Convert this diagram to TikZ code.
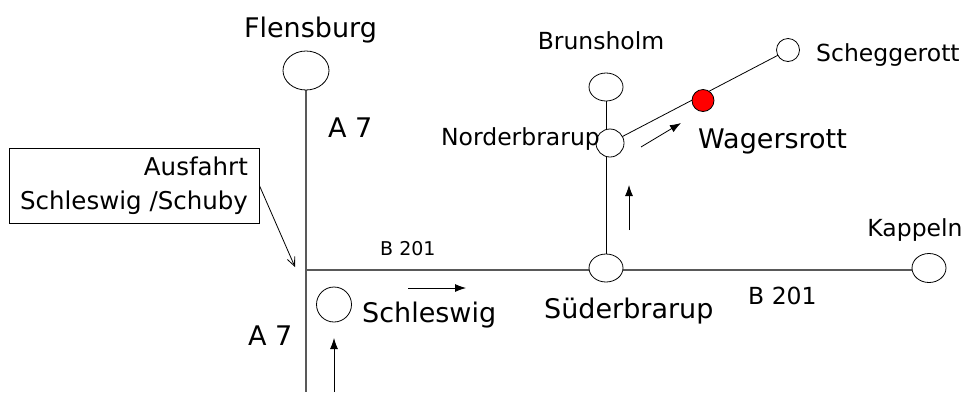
\documentclass[tikz,border=0pt]{standalone}
\usepackage{fontspec}
\setmainfont{DejaVu Sans}
\usetikzlibrary{shapes.geometric,arrows.meta,backgrounds}
\tikzset{
  town/.style={ellipse,draw=black,line width=0.8pt,fill=white,inner sep=0pt},
  bigtxt/.style={inner sep=0pt,font=\fontsize{27}{32}\selectfont},
  midtxt/.style={inner sep=0pt,font=\fontsize{23.5}{28}\selectfont},
  smalltxt/.style={inner sep=0pt,font=\fontsize{19}{23}\selectfont},
  road/.style={draw=black!65,line width=1.3pt},
  minor/.style={draw=black,line width=0.8pt},
  dirarrow/.style={draw=black,line width=0.8pt,-{Latex[length=11pt,width=8pt]}},
  callarrow/.style={draw=black,line width=0.8pt,-{Straight Barb[length=9pt,width=8pt]}}
}
\begin{document}
\begin{tikzpicture}[x=1pt,y=-1pt]
\useasboundingbox (0,0) rectangle (966,392);
% towns
\node[town,minimum width=46pt,minimum height=39pt] (flens) at (306,70.5) {};
\node[town,minimum width=34pt,minimum height=28pt] (bru) at (606,87) {};
\node[town,minimum width=28pt,minimum height=28pt] (nor) at (610,143) {};
\node[town,minimum width=34pt,minimum height=28pt] (sud) at (606,268) {};
\node[town,minimum width=34pt,minimum height=29pt] (kap) at (929,268) {};
\node[town,minimum width=35pt,minimum height=35pt] (schl) at (334,304.5) {};
\node[town,minimum width=23pt,minimum height=23pt] (scheg) at (788,50) {};
\node[town,fill=red,minimum width=22pt,minimum height=22pt] (wag) at (703,100.5) {};
% road coordinates
\coordinate (a7end) at (306,392);
\coordinate (junc) at (306,270);
% roads behind towns
\begin{pgfonlayer}{background}
\draw[road] (flens.south) -- (a7end);
\draw[road] (junc) -- (junc -| kap.center);
\draw[minor] (bru.south) -- (sud.center);
\draw[minor] (nor.center) -- (scheg.center);
\end{pgfonlayer}
% labels
\node[bigtxt,anchor=base] (lflens) at (310.5,37) {Flensburg};
\node[bigtxt,anchor=base west] (la7a) at (328,137) {A 7};
\node[bigtxt,anchor=base west] (la7b) at (248,345) {A 7};
\node[smalltxt,anchor=base west] (lb201a) at (380,255) {B 201};
\node[midtxt,anchor=base west] (lb201b) at (748,304) {B 201};
\node[bigtxt,anchor=base west] (lschl) at (362,322) {Schleswig};
\node[bigtxt,anchor=base west] (lsud) at (544,318) {Süderbrarup};
\node[midtxt,anchor=base] (lbru) at (601,49) {Brunsholm};
\node[midtxt,anchor=base east] (lnor) at (600,145) {Norderbrarup};
\node[midtxt,anchor=base west] (lscheg) at (816,61) {Scheggerott};
\node[bigtxt,anchor=base west] (lwag) at (698,148) {Wagersrott};
\node[midtxt,anchor=base] (lkap) at (915,236) {Kappeln};
% exit box
\node[draw=black,line width=0.8pt,minimum width=250pt,minimum height=75pt,
  inner sep=0pt,align=right,font=\fontsize{24.5}{34}\selectfont] (box) at (134,185.5)
  {Ausfahrt\\Schleswig /Schuby};
% arrows
\coordinate (exitpt) at (295,267);
\draw[callarrow] (box.east) -- (exitpt);
\coordinate (ar2s) at (408,288); \coordinate (ar2e) at (466,288);
\draw[dirarrow] (ar2s) -- (ar2e);
\coordinate (ar3s) at (334,392); \coordinate (ar3e) at (334,338);
\draw[dirarrow] (ar3s) -- (ar3e);
\coordinate (ar4s) at (629,230); \coordinate (ar4e) at (629,185);
\draw[dirarrow] (ar4s) -- (ar4e);
\coordinate (ar5s) at (641,147); \coordinate (ar5e) at (681,123);
\draw[dirarrow] (ar5s) -- (ar5e);
\end{tikzpicture}
\end{document}
